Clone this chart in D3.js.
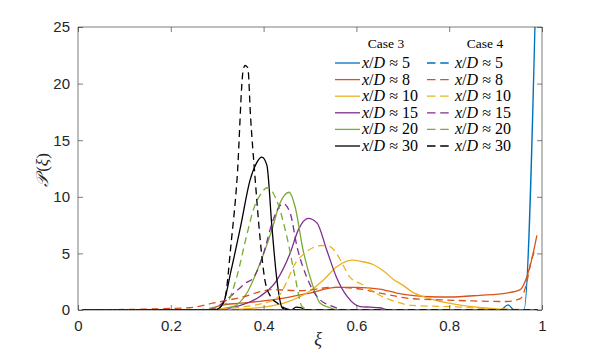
<!DOCTYPE html>
<html><head><meta charset="utf-8">
<script src="https://cdn.jsdelivr.net/npm/d3@7"></script>
<style>body{margin:0;background:#fff}svg{display:block}</style>
</head><body>
<svg id="c" width="599" height="355"></svg>
<script>
// ---- data ----
const xTicks = [0, 0.2, 0.4, 0.6, 0.8, 1];
const yTicks = [0, 5, 10, 15, 20, 25];
const xTickLabels = ["0", "0.2", "0.4", "0.6", "0.8", "1"];
const yTickLabels = ["0", "5", "10", "15", "20", "25"];
const stations = ["5", "8", "10", "15", "20", "30"];
const caseNames = ["Case 3", "Case 4"];

const c3_5  = [[0.01,0],[0.91,0],[0.927,0.45],[0.94,0],[0.961,0],[0.99,34]];
const c3_8  = [[0.01,0],[0.28,0],[0.306,0.4],[0.35,0.6],[0.4,0.8],[0.45,1.1],[0.5,1.5],[0.557,2.0],[0.6,2.0],[0.65,1.85],[0.687,1.5],[0.759,1.17],[0.8,1.15],[0.866,1.3],[0.924,1.5],[0.953,1.8],[0.967,2.9],[0.978,4.5],[0.989,6.6]];
const c3_10 = [[0.01,0],[0.3,0],[0.36,0.1],[0.407,0.3],[0.45,0.7],[0.493,1.5],[0.528,2.6],[0.557,3.8],[0.59,4.4],[0.61,4.3],[0.637,4.0],[0.66,3.4],[0.68,2.7],[0.7,2.2],[0.72,1.6],[0.75,1.1],[0.8,0.6],[0.87,0.2],[0.92,0.05],[0.99,0]];
const c3_15 = [[0.01,0],[0.29,0],[0.35,0.4],[0.392,1.2],[0.428,2.6],[0.457,5.0],[0.475,7.1],[0.496,8.1],[0.515,7.7],[0.536,5.3],[0.557,2.9],[0.58,1.2],[0.608,0.3],[0.63,0.25],[0.65,0.2],[0.67,0],[0.99,0]];
const c3_20 = [[0.01,0],[0.28,0],[0.334,0.3],[0.364,1.5],[0.392,4.1],[0.418,7.1],[0.435,9.4],[0.455,10.4],[0.468,9.1],[0.485,5.3],[0.504,2.4],[0.522,0.6],[0.543,0.2],[0.56,0],[0.99,0]];
const c3_30 = [[0.01,0],[0.295,0],[0.313,0.6],[0.33,3.5],[0.35,7.3],[0.371,11.5],[0.385,13.0],[0.396,13.5],[0.407,12.8],[0.418,7.3],[0.428,2.9],[0.44,0.2],[0.45,0],[0.46,0],[0.47,0.25],[0.48,0.2],[0.49,0],[0.99,0]];

const c4_5  = [[0.01,0],[0.99,0]];
const c4_8  = [[0.01,0],[0.24,0.2],[0.29,0.6],[0.35,1.1],[0.42,1.8],[0.478,1.7],[0.55,2.0],[0.6,1.9],[0.651,1.5],[0.72,1.0],[0.78,0.9],[0.85,0.8],[0.924,0.75],[0.953,1.0],[0.967,2.4],[0.976,4.2],[0.986,5.4]];
const c4_10 = [[0.01,0],[0.24,0],[0.3,0.1],[0.36,0.3],[0.4,0.6],[0.43,1.1],[0.45,2.5],[0.464,3.8],[0.485,4.9],[0.506,5.5],[0.525,5.7],[0.543,5.6],[0.56,4.8],[0.586,2.9],[0.615,2.2],[0.65,1.3],[0.687,0.7],[0.72,0.4],[0.8,0.3],[0.9,0.1],[0.95,0.05],[0.99,0]];
const c4_15 = [[0.01,0],[0.27,0],[0.3,0.3],[0.32,0.9],[0.345,1.8],[0.362,2.4],[0.377,2.8],[0.39,3.8],[0.4,5.0],[0.42,7.9],[0.435,9.2],[0.442,9.4],[0.457,8.6],[0.472,5.6],[0.493,2.9],[0.517,1.1],[0.55,0.3],[0.58,0],[0.99,0]];
const c4_20 = [[0.01,0],[0.25,0],[0.29,0.2],[0.32,0.6],[0.342,2.9],[0.363,6.5],[0.38,9.1],[0.395,10.3],[0.407,10.8],[0.418,10.5],[0.428,9.7],[0.45,6.5],[0.468,2.9],[0.483,0.3],[0.5,0],[0.99,0]];
const c4_30 = [[0.01,0],[0.29,0],[0.305,0.2],[0.317,1.1],[0.33,5.9],[0.343,11.7],[0.356,21.2],[0.36,21.6],[0.366,21.4],[0.372,17.0],[0.381,12.0],[0.392,6.5],[0.403,2.6],[0.415,1.2],[0.43,0.6],[0.45,0.1],[0.47,0],[0.99,0]];

const colors = ["#0072BD", "#D95319", "#EDB120", "#7E2F8E", "#77AC30", "#000000"];
const case3 = [c3_5, c3_8, c3_10, c3_15, c3_20, c3_30];
const case4 = [c4_5, c4_8, c4_10, c4_15, c4_20, c4_30];

// ---- layout ----
const svg = d3.select("#c");
const L = 78, R = 542, T = 27, B = 310;
const x = d3.scaleLinear().domain([0, 1]).range([L, R]);
const y = d3.scaleLinear().domain([0, 25]).range([B, T]);
const axisColor = "#262626";

svg.append("defs").append("clipPath").attr("id", "clip")
  .append("rect").attr("x", L).attr("y", T).attr("width", R - L).attr("height", B - T);

const line = d3.line().x(d => x(d[0])).y(d => y(d[1])).curve(d3.curveMonotoneX);
const plot = svg.append("g").attr("clip-path", "url(#clip)");

case3.forEach((s, i) => {
  plot.append("path").attr("d", line(s)).attr("fill", "none")
    .attr("stroke", colors[i]).attr("stroke-width", 1.3);
});
case4.forEach((s, i) => {
  plot.append("path").attr("d", line(s)).attr("fill", "none")
    .attr("stroke", colors[i]).attr("stroke-width", 1.3)
    .attr("stroke-dasharray", "7,4.5");
});

// axes (MATLAB-style box with inward ticks)
const fontSans = "'Liberation Sans', Arial, Helvetica, sans-serif";
const xAxis = d3.axisBottom(x).tickValues(xTicks).tickSize(-5).tickPadding(10)
  .tickFormat((d, i) => xTickLabels[i]);
const yAxis = d3.axisLeft(y).tickValues(yTicks).tickSize(-5).tickPadding(8)
  .tickFormat((d, i) => yTickLabels[i]);
const gx = svg.append("g").attr("transform", `translate(0,${B})`).call(xAxis);
const gy = svg.append("g").attr("transform", `translate(${L},0)`).call(yAxis);
const gxt = svg.append("g").attr("transform", `translate(0,${T})`)
  .call(d3.axisTop(x).tickValues(xTicks).tickSize(-5).tickFormat(""));
const gyr = svg.append("g").attr("transform", `translate(${R},0)`)
  .call(d3.axisRight(y).tickValues(yTicks).tickSize(-5).tickFormat(""));
[gx, gy, gxt, gyr].forEach(g => {
  g.selectAll(".domain").attr("stroke", axisColor).attr("stroke-width", 0.6);
  g.selectAll(".tick line").attr("stroke", axisColor).attr("stroke-width", 0.6);
  g.selectAll("text").attr("font-family", fontSans).attr("font-size", 15).attr("fill", axisColor);
});
gx.selectAll(".domain").attr("d", `M${L},0H${R}`);
gxt.selectAll(".domain").attr("d", `M${L},0H${R}`);
gy.selectAll(".domain").attr("d", `M0,${B}V${T}`);
gyr.selectAll(".domain").attr("d", `M0,${B}V${T}`);

// axis labels
const fontSerif = "'Liberation Serif', 'Times New Roman', serif";
svg.append("text").attr("x", 318).attr("y", 345).attr("text-anchor", "middle")
  .attr("font-family", fontSerif).attr("font-style", "italic").attr("font-size", 18)
  .attr("fill", axisColor).text("ξ");
const yl = svg.append("text").attr("transform", "translate(48,170) rotate(-90)")
  .attr("text-anchor", "middle").attr("font-family", fontSerif).attr("font-size", 17)
  .attr("fill", axisColor);
yl.append("tspan").attr("font-style", "italic").text("𝒫");
yl.append("tspan").attr("dx", 3).text("(");
yl.append("tspan").attr("font-style", "italic").text("ξ");
yl.append("tspan").text(")");

// legend
const leg = svg.append("g");
const colX = [{ls: 335, le: 360, tx: 362, hx: 386}, {ls: 427, le: 450, tx: 455, hx: 485}];
const row0 = 63, rowH = 16.6;
caseNames.forEach((n, c) => {
  leg.append("text").attr("x", colX[c].hx).attr("y", 48).attr("text-anchor", "middle")
    .attr("font-family", fontSerif).attr("font-size", 13.5).attr("fill", "#000").text(n);
  stations.forEach((st, i) => {
    const yy = row0 + i * rowH;
    const ln = leg.append("line").attr("x1", colX[c].ls).attr("x2", colX[c].le)
      .attr("y1", yy).attr("y2", yy).attr("stroke", colors[i]).attr("stroke-width", 1.3);
    if (c === 1) ln.attr("stroke-dasharray", "8.5,4.7");
    const t = leg.append("text").attr("x", colX[c].tx).attr("y", yy + 5)
      .attr("font-family", fontSerif).attr("font-size", 16).attr("fill", "#000");
    t.append("tspan").attr("font-style", "italic").text("x");
    t.append("tspan").text("/");
    t.append("tspan").attr("font-style", "italic").text("D");
    t.append("tspan").attr("dx", 4).text("≈");
    t.append("tspan").attr("dx", 4).text(st);
  });
});
</script>
</body></html>
